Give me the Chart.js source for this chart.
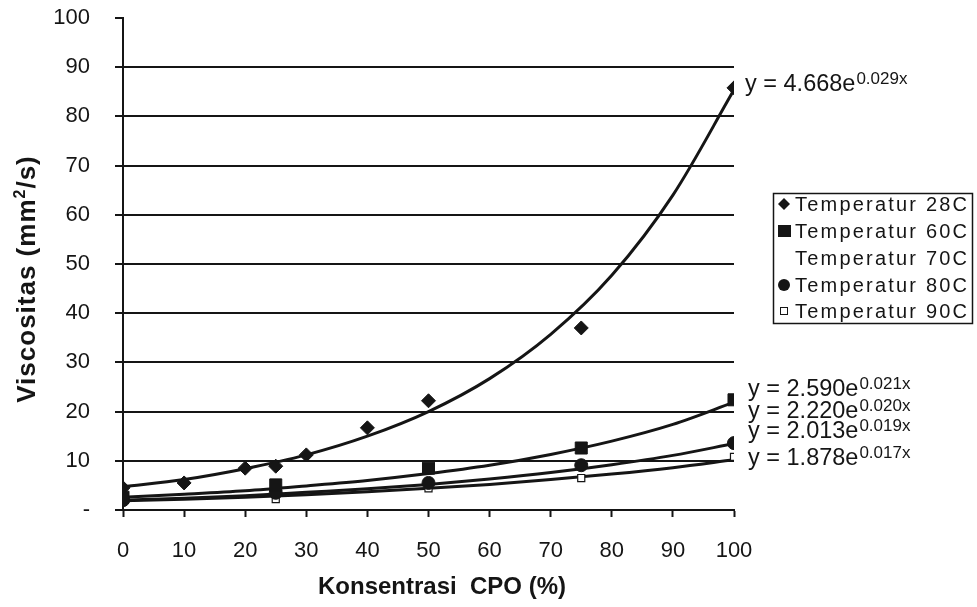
<!DOCTYPE html>
<html>
<head>
<meta charset="utf-8">
<script src="https://cdn.jsdelivr.net/npm/chart.js@4.4.1/dist/chart.umd.min.js"></script>
<style>
  html, body { margin: 0; padding: 0; background: #fff; }
</style>
</head>
<body>
<canvas id="myChart" width="977" height="607"></canvas>
<script>
var seriesNames = ["Temperatur 28C", "Temperatur 60C", "Temperatur 70C", "Temperatur 80C", "Temperatur 90C"];

// measured points
var x28 = [0, 10, 20, 25, 30, 40, 50, 75, 100];
var y28 = [4.5, 5.5, 8.5, 8.9, 11.2, 16.7, 22.2, 37, 85.8];

var xOther = [0, 25, 50, 75, 100];
var y60 = [2.6, 5.1, 8.5, 12.6, 22.4];
var y70 = [2.2, 3.6, 6.1, 9.4, 16.2];
var y80 = [2.0, 3.5, 5.5, 9.1, 13.6];
var y90 = [2.0, 2.2, 4.4, 6.5, 10.8];

// trendlines, every 10 %
var trendX = [0, 10, 20, 30, 40, 50, 60, 70, 80, 90, 100];
var trend28 = [4.7, 6.2, 8.4, 11.2, 15, 20, 26.7, 35.7, 47.7, 64, 85.4];
var trend60 = [2.6, 3.2, 3.9, 4.9, 6, 7.4, 9.1, 11.3, 14, 17.4, 21.9];
var trend80 = [2.0, 2.4, 2.9, 3.6, 4.3, 5.2, 6.3, 7.6, 9.2, 11.1, 13.5];
var trend90 = [1.9, 2.2, 2.6, 3.1, 3.7, 4.4, 5.2, 6.2, 7.3, 8.6, 10.2];

// trendline equations y = a e^(bx)
var eqCoef = ["4.668", "2.590", "2.220", "2.013", "1.878"];
var eqExp = ["0.029", "0.021", "0.020", "0.019", "0.017"];

var xTickLabels = ["0", "10", "20", "30", "40", "50", "60", "70", "80", "90", "100"];
var yTickLabels = ["-", "10", "20", "30", "40", "50", "60", "70", "80", "90", "100"];

var ink = "#151515";
var fam = "'Liberation Sans', Arial, sans-serif";

function pts(xs, ys) {
  return xs.map(function (x, i) { return { x: x, y: ys[i] }; });
}

function trend(ys) {
  return {
    data: pts(trendX, ys),
    showLine: true,
    pointRadius: 0,
    borderColor: ink,
    borderWidth: 3,
    cubicInterpolationMode: "monotone",
    fill: false,
    order: 2
  };
}

var extras = {
  id: "extras",
  afterDraw: function (chart) {
    var ctx = chart.ctx;
    ctx.save();
    ctx.fillStyle = ink;
    ctx.strokeStyle = ink;

    // axis titles
    ctx.font = "bold 24px " + fam;
    ctx.textAlign = "center";
    ctx.textBaseline = "middle";
    ctx.fillText("Konsentrasi  CPO (%)", 442, 587);

    ctx.save();
    ctx.translate(28, 279);
    ctx.rotate(-Math.PI / 2);
    if ("letterSpacing" in ctx) ctx.letterSpacing = "1px";
    var a = "Viscositas (mm", b = "2", c = "/s)";
    ctx.font = "bold 26px " + fam;
    var wa = ctx.measureText(a).width, wc = ctx.measureText(c).width;
    ctx.font = "bold 16px " + fam;
    var wb = ctx.measureText(b).width;
    var x0 = -(wa + wb + wc) / 2;
    ctx.textAlign = "left";
    ctx.font = "bold 26px " + fam;
    ctx.fillText(a, x0, 0);
    ctx.font = "bold 16px " + fam;
    ctx.fillText(b, x0 + wa, -7);
    ctx.font = "bold 26px " + fam;
    ctx.fillText(c, x0 + wa + wb, 0);
    ctx.restore();

    // equation labels
    var eqX = [745, 748, 748, 748, 748];
    var eqY = [85, 390, 412, 432, 459];
    ctx.textAlign = "left";
    for (var i = 0; i < eqCoef.length; i++) {
      var main = "y = " + eqCoef[i] + "e";
      ctx.font = "23.5px " + fam;
      ctx.fillText(main, eqX[i], eqY[i]);
      var w = ctx.measureText(main).width;
      ctx.font = "17px " + fam;
      ctx.fillText(eqExp[i] + "x", eqX[i] + w + 1, eqY[i] - 6);
    }

    // legend
    ctx.lineWidth = 1.5;
    ctx.strokeRect(773.5, 193.5, 199, 130);
    var rowY = [204, 231, 258, 285, 311];
    ctx.font = "20px " + fam;
    if ("letterSpacing" in ctx) ctx.letterSpacing = "2.2px";
    for (var j = 0; j < seriesNames.length; j++) {
      var y = rowY[j];
      ctx.fillStyle = ink;
      if (j === 0) {
        ctx.beginPath();
        ctx.moveTo(784, y - 6); ctx.lineTo(790, y); ctx.lineTo(784, y + 6); ctx.lineTo(778, y);
        ctx.closePath(); ctx.fill();
      } else if (j === 1) {
        ctx.fillRect(778, y - 6, 13, 12);
      } else if (j === 3) {
        ctx.beginPath(); ctx.arc(784, y, 6, 0, Math.PI * 2); ctx.fill();
      } else if (j === 4) {
        ctx.lineWidth = 1;
        ctx.strokeRect(780.5, y - 3.5, 7, 7);
      }
      ctx.fillText(seriesNames[j], 795, y + 1);
    }
    ctx.restore();
  }
};

new Chart("myChart", {
  type: "scatter",
  data: {
    datasets: [
      { label: seriesNames[0], data: pts(x28, y28), pointStyle: "rectRot", pointRadius: 7,
        backgroundColor: ink, borderColor: ink, borderWidth: 1, showLine: false, order: 1 },
      { label: seriesNames[1], data: pts(xOther, y60), pointStyle: "rect", pointRadius: 8.5,
        backgroundColor: ink, borderColor: ink, borderWidth: 1, showLine: false, order: 1 },
      { label: seriesNames[2], data: pts(xOther, y70), pointRadius: 0, showLine: false, order: 1 },
      { label: seriesNames[3], data: pts(xOther, y80), pointStyle: "circle", pointRadius: 6.5,
        backgroundColor: ink, borderColor: ink, borderWidth: 1, showLine: false, order: 1 },
      { label: seriesNames[4], data: pts(xOther, y90), pointStyle: "rect", pointRadius: 5,
        backgroundColor: "#fff", borderColor: ink, borderWidth: 1.2, showLine: false, order: 1 },
      trend(trend28),
      trend(trend60),
      trend(trend80),
      trend(trend90)
    ]
  },
  options: {
    responsive: false,
    animation: false,
    devicePixelRatio: 1,
    layout: { padding: { top: 18, right: 243, bottom: 0, left: 0 } },
    plugins: { legend: { display: false }, tooltip: { enabled: false } },
    scales: {
      x: {
        type: "linear",
        min: 0,
        max: 100,
        afterFit: function (s) { s.height = 97; s.paddingLeft = 0; s.paddingRight = 0; },
        border: { display: true, color: ink, width: 2 },
        grid: { drawOnChartArea: false, drawTicks: true, tickLength: 7, tickColor: ink, tickWidth: 2 },
        ticks: {
          stepSize: 10,
          padding: 21,
          color: ink,
          font: { family: fam, size: 22 },
          callback: function (v, i) { return xTickLabels[i]; }
        }
      },
      y: {
        min: 0,
        max: 100,
        afterFit: function (s) { s.width = 123; s.paddingTop = 0; s.paddingBottom = 0; },
        border: { display: true, color: ink, width: 2 },
        grid: {
          color: function (c) { return c.tick && c.tick.value === 100 ? "rgba(0,0,0,0)" : ink; },
          lineWidth: 2,
          tickLength: 8,
          tickColor: ink,
          tickWidth: 2
        },
        ticks: {
          stepSize: 10,
          padding: 25,
          color: ink,
          font: { family: fam, size: 22 },
          callback: function (v, i) { return yTickLabels[i]; }
        }
      }
    }
  },
  plugins: [extras]
});
</script>
</body>
</html>
